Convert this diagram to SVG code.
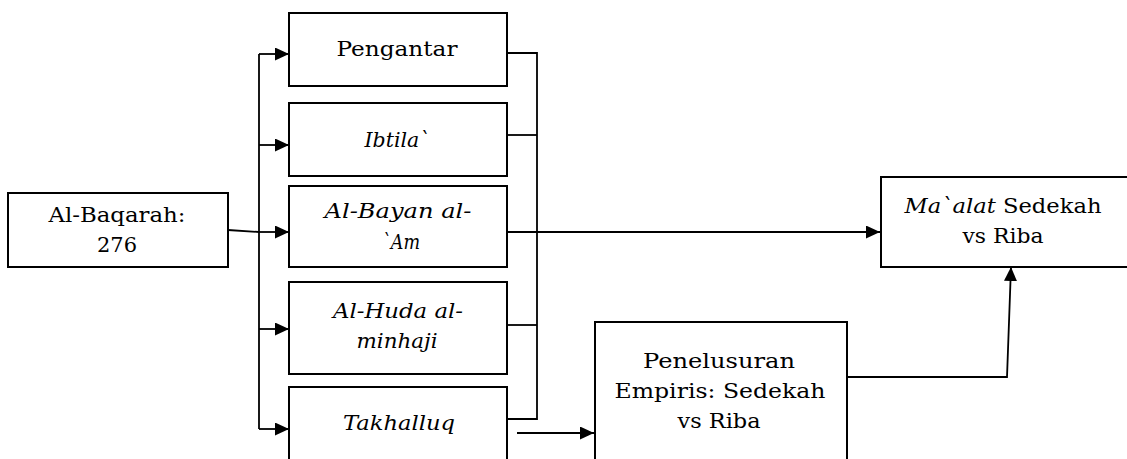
<svg xmlns="http://www.w3.org/2000/svg" width="1127" height="459" viewBox="0 0 1127 459">
<style>
.box{fill:#fff;stroke:#000;stroke-width:2}
.t{font-family:"DejaVu Serif","Liberation Serif",serif;font-size:21px;fill:#000;text-anchor:middle}
.i{font-style:italic}
.c{fill:none;stroke:#000;stroke-width:1.8}
</style>
<defs>
<marker id="ah" markerUnits="userSpaceOnUse" markerWidth="15" markerHeight="13" refX="14" refY="6.5" orient="auto">
<path d="M0,0 L14,6.5 L0,13 z" fill="#000"/>
</marker>
</defs>
<g id="connectors">
<path class="c" d="M228,230 L259,232"/>
<path class="c" d="M259,54 L259,429"/>
<path class="c" d="M259,54 L289,54" marker-end="url(#ah)"/>
<path class="c" d="M259,145 L289,145" marker-end="url(#ah)"/>
<path class="c" d="M259,232 L289,232" marker-end="url(#ah)"/>
<path class="c" d="M259,329 L289,329" marker-end="url(#ah)"/>
<path class="c" d="M259,429 L289,429" marker-end="url(#ah)"/>
<path class="c" d="M507,53 L537,53 L537,419 L507,419"/>
<path class="c" d="M507,135 L537,135"/>
<path class="c" d="M507,325 L537,325"/>
<path class="c" d="M507,232 L880,232" marker-end="url(#ah)"/>
<path class="c" d="M517,433 L594,433" marker-end="url(#ah)"/>
<path class="c" d="M847,377 L1007,377 L1011,267" marker-end="url(#ah)"/>
</g>
<g id="albaqarah">
<rect class="box" x="8" y="193" width="220" height="74"/>
<text class="t" x="117" y="222" textLength="137" lengthAdjust="spacingAndGlyphs">Al-Baqarah:</text>
<text class="t" x="117" y="252" textLength="40" lengthAdjust="spacingAndGlyphs">276</text>
</g>
<g id="pengantar">
<rect class="box" x="289" y="13" width="218" height="73"/>
<text class="t" x="397" y="56" textLength="121" lengthAdjust="spacingAndGlyphs">Pengantar</text>
</g>
<g id="ibtila">
<rect class="box" x="289" y="103" width="218" height="73"/>
<text class="t i" x="397" y="147" textLength="65" lengthAdjust="spacingAndGlyphs">Ibtila`</text>
</g>
<g id="albayan">
<rect class="box" x="289" y="186" width="218" height="81"/>
<text class="t i" x="398" y="218" textLength="147" lengthAdjust="spacingAndGlyphs">Al-Bayan al-</text>
<text class="t i" x="401" y="249" textLength="38" lengthAdjust="spacingAndGlyphs">`Am</text>
</g>
<g id="alhuda">
<rect class="box" x="289" y="282" width="218" height="92"/>
<text class="t i" x="398" y="318" textLength="130" lengthAdjust="spacingAndGlyphs">Al-Huda al-</text>
<text class="t i" x="397" y="348" textLength="81" lengthAdjust="spacingAndGlyphs">minhaji</text>
</g>
<g id="takhalluq">
<rect class="box" x="289" y="387" width="218" height="80"/>
<text class="t i" x="399" y="430" textLength="112" lengthAdjust="spacingAndGlyphs">Takhalluq</text>
</g>
<g id="penelusuran">
<rect class="box" x="595" y="322" width="252" height="145"/>
<text class="t" x="719" y="368" textLength="152" lengthAdjust="spacingAndGlyphs">Penelusuran</text>
<text class="t" x="720" y="398" textLength="211" lengthAdjust="spacingAndGlyphs">Empiris: Sedekah</text>
<text class="t" x="719" y="428" textLength="83" lengthAdjust="spacingAndGlyphs">vs Riba</text>
</g>
<g id="maalat">
<rect class="box" x="881" y="177" width="260" height="90"/>
<text class="t" x="1003" y="213" textLength="197" lengthAdjust="spacingAndGlyphs"><tspan class="i">Ma`alat</tspan> Sedekah</text>
<text class="t" x="1003" y="243" textLength="81" lengthAdjust="spacingAndGlyphs">vs Riba</text>
</g>
</svg>
